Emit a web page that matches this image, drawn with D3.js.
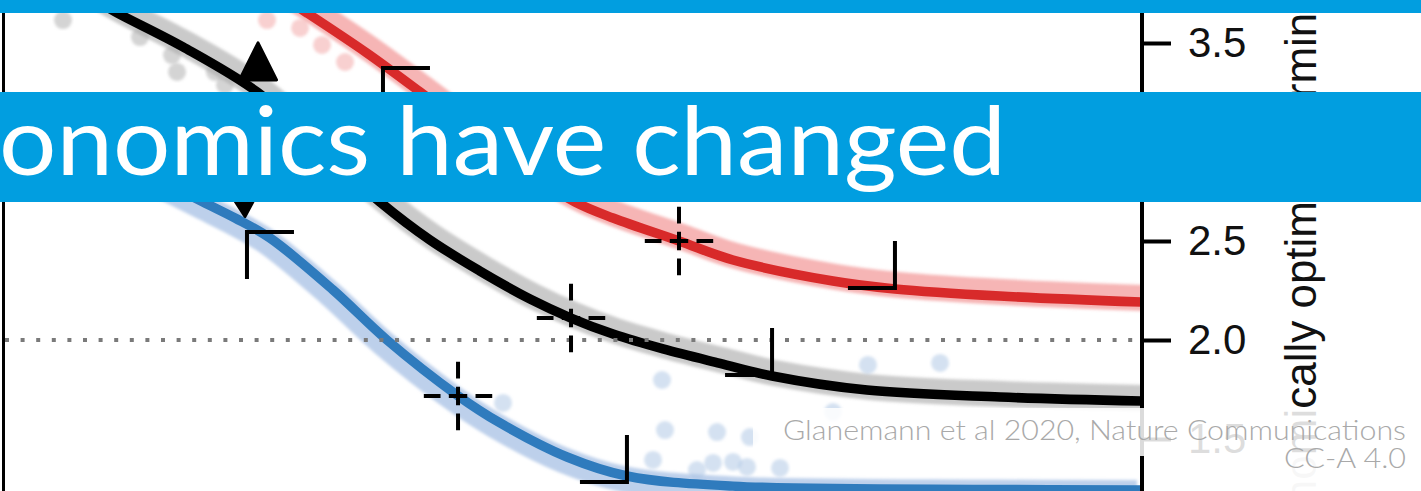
<!DOCTYPE html>
<html>
<head>
<meta charset="utf-8">
<script src="https://cdn.jsdelivr.net/npm/d3@7"></script>
<style>
  html, body { margin: 0; padding: 0; background: #fff; overflow: hidden; }
</style>
</head>
<body>
<div class="chart"></div>
<script>
const width = 1421
const height = 491

// fitted curves (x: arbitrary units, y: warming in °C)
const blackX = [8.52, 10.01, 15.80, 22.30, 27.83, 33.10, 37.49, 41.88, 46.27, 49.87, 53.56, 57.95, 62.95, 67.52, 75.86, 87.53, 99.91]
const blackY = [3.702, 3.652, 3.480, 3.253, 2.970, 2.697, 2.505, 2.348, 2.207, 2.111, 2.030, 1.955, 1.882, 1.818, 1.747, 1.712, 1.692]
const redX = [25.2, 26.69, 31.96, 36.61, 41.0, 45.39, 50.22, 53.56, 59.35, 64.09, 72.87, 78.31, 87.53, 99.91]
const redY = [3.707, 3.652, 3.449, 3.253, 3.061, 2.869, 2.697, 2.616, 2.5, 2.404, 2.298, 2.258, 2.222, 2.192]
const blueX = [0, 8.52, 17.56, 20.37, 23.44, 28.97, 33.71, 39.86, 43.64, 49.52, 54.78, 64.09, 87.53, 99.91]
const blueY = [3.212, 2.960, 2.697, 2.616, 2.515, 2.253, 2.0, 1.722, 1.581, 1.409, 1.313, 1.262, 1.245, 1.242]

// loose scatter points
const grayDots = [[5.27, 3.616], [12.03, 3.530], [14.84, 3.439], [15.28, 3.354], [18.61, 3.354], [19.49, 3.288]]
const redDots = [[23.18, 3.616], [26.08, 3.576], [28.01, 3.490], [30.03, 3.404]]
const blueDots = [[57.86, 1.798], [75.94, 1.874], [82.27, 1.884], [43.9, 1.682], [58.12, 1.545], [62.69, 1.535],
  [65.58, 1.510], [57.07, 1.394], [60.93, 1.343], [62.34, 1.379], [64.09, 1.384], [65.32, 1.359], [68.22, 1.354], [72.87, 1.636]]

// markers
const crossPts = [[59.35, 2.5], [49.87, 2.111], [39.95, 1.717]]
const cornerTop = [[33.36, 3.374], [21.42, 2.545]]
const cornerBottom = [[78.31, 2.263], [67.52, 1.823], [54.78, 1.283]]
const triUp = [[22.39, 3.407]]
const triDown = [[21.07, 2.717]]

const yTicks = [1.5, 2.0, 2.5, 3.0, 3.5]
const refLevel = 2.0

const x = d3.scaleLinear().domain([0, 100]).range([3, 1142])
const y = d3.scaleLinear().domain([1.5, 3.5]).range([439, 43])

const svg = d3.create("svg")
  .attr("width", width)
  .attr("height", height)
  .attr("viewBox", [0, 0, width, height])
  .style("display", "block")
  .style("background", "#fff")

const defs = svg.append("defs")
defs.append("clipPath").attr("id", "plot")
  .append("rect").attr("x", 3).attr("y", 0).attr("width", 1139).attr("height", height)
defs.append("filter").attr("id", "soft")
  .append("feGaussianBlur").attr("stdDeviation", 1.8)

const zip = (xs, ys) => xs.map((v, i) => [v, ys[i]])
const line = d3.line().x(d => x(d[0])).y(d => y(d[1])).curve(d3.curveCatmullRom.alpha(0.5))

const series = [
  {pts: zip(redX, redY), color: "#d82a2a", halo: "rgba(238,120,120,0.55)", shift: [3, -4], dots: redDots, dotColor: "rgba(240,150,150,0.45)"},
  {pts: zip(blackX, blackY), color: "#000", halo: "rgba(150,150,150,0.5)", shift: [3, -3], dots: grayDots, dotColor: "rgba(170,170,170,0.5)"},
  {pts: zip(blueX, blueY), color: "#2f7bbd", halo: "rgba(135,170,218,0.55)", shift: [-4, 3], dots: blueDots, dotColor: "rgba(170,195,228,0.5)"}
]

const plot = svg.append("g").attr("clip-path", "url(#plot)")

// scatter clouds
series.forEach(s => {
  plot.append("path")
    .attr("d", line(s.pts))
    .attr("fill", "none")
    .attr("stroke", s.halo)
    .attr("stroke-width", 26)
    .attr("stroke-linejoin", "round")
    .attr("transform", `translate(${s.shift})`)
    .attr("filter", "url(#soft)")
  plot.append("g").selectAll("circle")
    .data(s.dots)
    .join("circle")
    .attr("cx", d => x(d[0]))
    .attr("cy", d => y(d[1]))
    .attr("r", 9)
    .attr("fill", s.dotColor)
    .attr("filter", "url(#soft)")
})

// dotted reference line
svg.append("line")
  .attr("x1", 5).attr("x2", 1134)
  .attr("y1", y(refLevel)).attr("y2", y(refLevel))
  .attr("stroke", "#7a7a7a")
  .attr("stroke-width", 4)
  .attr("stroke-dasharray", "4 11.6")

// fitted curves
series.forEach(s => {
  plot.append("path")
    .attr("d", line(s.pts))
    .attr("fill", "none")
    .attr("stroke", s.color)
    .attr("stroke-width", 9.5)
})

const marks = svg.append("g")
  .attr("fill", "none")
  .attr("stroke", "#000")
  .attr("stroke-width", 4)

// dashed crosshairs
crossPts.forEach(d => {
  const cx = x(d[0]), cy = y(d[1])
  marks.append("path")
    .attr("d", `M${cx - 34.2},${cy}H${cx + 34.2}M${cx},${cy - 34.2}V${cy + 34.2}`)
    .attr("stroke-dasharray", "16.7 8.3 18.4 8.3 16.7")
})

// range corners
const arm = 47
cornerTop.forEach(d => {
  const cx = x(d[0]), cy = y(d[1])
  marks.append("path").attr("d", `M${cx + arm},${cy}H${cx}V${cy + arm}`)
})
cornerBottom.forEach(d => {
  const cx = x(d[0]), cy = y(d[1])
  marks.append("path").attr("d", `M${cx},${cy - arm}V${cy}H${cx - arm}`)
})

// triangles
const tri = 18.5
svg.append("g").selectAll("path")
  .data(triUp)
  .join("path")
  .attr("d", d => `M${x(d[0])},${y(d[1]) - tri}L${x(d[0]) + tri},${y(d[1]) + tri}L${x(d[0]) - tri},${y(d[1]) + tri}Z`)
  .attr("fill", "#000").attr("stroke", "#000").attr("stroke-width", 3).attr("stroke-linejoin", "round")
svg.append("g").selectAll("path")
  .data(triDown)
  .join("path")
  .attr("d", d => `M${x(d[0]) - 22},${y(d[1]) - tri}L${x(d[0]) + 22},${y(d[1]) - tri}L${x(d[0]) + 2},${y(d[1]) + tri}Z`)
  .attr("fill", "#000").attr("stroke", "#000").attr("stroke-width", 3).attr("stroke-linejoin", "round")

// axes
svg.append("line")
  .attr("x1", 3.5).attr("x2", 3.5).attr("y1", 0).attr("y2", height)
  .attr("stroke", "#000").attr("stroke-width", 3)
svg.append("line")
  .attr("x1", 1142).attr("x2", 1142).attr("y1", 0).attr("y2", height)
  .attr("stroke", "#000").attr("stroke-width", 4)

const yAxis = svg.append("g")
  .attr("transform", "translate(1142,0)")
  .call(d3.axisRight(y).tickValues(yTicks).tickFormat(d3.format(".1f")).tickSize(29).tickPadding(17))
yAxis.select(".domain").remove()
yAxis.selectAll(".tick line").attr("stroke", "#000").attr("stroke-width", 4)
yAxis.selectAll(".tick text")
  .attr("fill", "#111")
  .style("font", "42px 'Liberation Sans', Arial, sans-serif")

svg.append("text")
  .attr("transform", "translate(1316,580) rotate(-90)")
  .attr("fill", "#111")
  .style("font", "44px 'Liberation Sans', Arial, sans-serif")
  .text("Economically optimal warming (°C)")

// slide furniture
const slideBlue = "#019ee0"
svg.append("rect").attr("x", 0).attr("y", 0).attr("width", width).attr("height", 13).attr("fill", slideBlue)
svg.append("rect").attr("x", 0).attr("y", 92).attr("width", width).attr("height", 110).attr("fill", slideBlue)
svg.append("text")
  .attr("x", -1).attr("y", 175)
  .attr("fill", "#fff")
  .attr("textLength", 1007)
  .attr("lengthAdjust", "spacingAndGlyphs")
  .style("font", "95px Lato, 'Open Sans', sans-serif")
  .text("onomics have changed")

svg.append("rect")
  .attr("x", 753).attr("y", 408).attr("width", width - 753).attr("height", 48)
  .attr("fill", "#fff").attr("fill-opacity", 0.86)
svg.append("rect")
  .attr("x", 1160).attr("y", 456).attr("width", width - 1160).attr("height", height - 456)
  .attr("fill", "#fff").attr("fill-opacity", 0.97)
const credit = svg.append("g")
  .attr("fill", "#a9a9a9")
  .attr("text-anchor", "end")
  .style("font", "300 27px Lato, 'Open Sans', sans-serif")
credit.append("text").attr("x", 1406).attr("y", 440)
  .attr("textLength", 623).attr("lengthAdjust", "spacingAndGlyphs")
  .text("Glanemann et al 2020, Nature Communications")
credit.append("text").attr("x", 1406).attr("y", 468)
  .attr("textLength", 122).attr("lengthAdjust", "spacingAndGlyphs")
  .text("CC-A 4.0")

document.querySelector(".chart").append(svg.node())
</script>
</body>
</html>
